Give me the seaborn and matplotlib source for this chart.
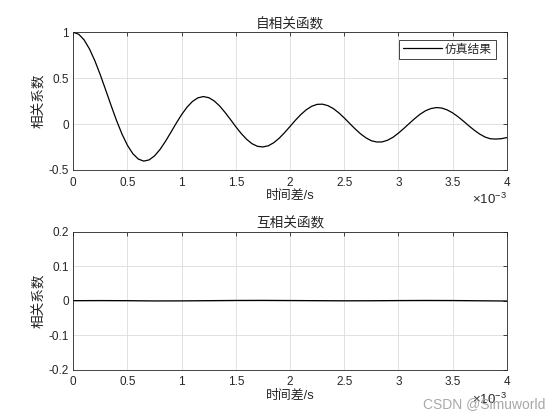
import numpy as np
import matplotlib
matplotlib.use("Agg")
import matplotlib.pyplot as plt
from matplotlib.ticker import FuncFormatter
import seaborn as sns

# time lag, in units of 1e-3 s
tau_ms = np.linspace(0, 4, 81)
auto_corr = [1.000, 0.979, 0.917, 0.817, 0.687, 0.534, 0.368, 0.199, 0.036, -0.110,
             -0.232, -0.323, -0.381, -0.403, -0.390, -0.346, -0.277, -0.189, -0.091, 0.010,
             0.104, 0.185, 0.247, 0.286, 0.300, 0.288, 0.253, 0.198, 0.128, 0.051,
             -0.029, -0.103, -0.166, -0.214, -0.242, -0.249, -0.236, -0.203, -0.154, -0.093,
             -0.026, 0.042, 0.104, 0.156, 0.194, 0.215, 0.217, 0.201, 0.169, 0.123,
             0.068, 0.008, -0.051, -0.105, -0.149, -0.181, -0.195, -0.194, -0.176, -0.144,
             -0.099, -0.048, 0.006, 0.059, 0.107, 0.145, 0.169, 0.180, 0.175, 0.155,
             0.123, 0.081, 0.033, -0.018, -0.066, -0.108, -0.141, -0.160, -0.163, -0.159, -0.147]

tau_cross_ms = np.linspace(0, 4, 17)
cross_corr = [0.0000, 0.0003, 0.0000, -0.0008, -0.0006, 0.0000, 0.0006, 0.0008, 0.0004,
              0.0000, -0.0004, -0.0002, 0.0003, 0.0006, 0.0004, -0.0003, -0.0010]

x_ticks = [0, 0.5, 1, 1.5, 2, 2.5, 3, 3.5, 4]
y_ticks_auto = [-0.5, 0, 0.5, 1]
y_ticks_cross = [-0.2, -0.1, 0, 0.1, 0.2]

sns.set_theme(style="whitegrid")
plt.rcParams['font.family'] = ['Liberation Sans', 'Noto Sans CJK SC']
plt.rcParams['mathtext.fontset'] = 'custom'
plt.rcParams['mathtext.rm'] = 'Liberation Sans'

W, H = 560, 420
fig = plt.figure(figsize=(5.6, 4.2), dpi=100, facecolor='white')
ax1 = fig.add_axes([73.3 / W, 1 - 170 / H, 433.4 / W, 137.7 / H])
ax2 = fig.add_axes([73.3 / W, 1 - 369.5 / H, 433.4 / W, 137.7 / H])

dark = '#262626'
fmt = FuncFormatter(lambda v, p: '%g' % v)

sns.lineplot(x=tau_ms, y=auto_corr, ax=ax1, color='black', lw=0.9, label='仿真结果')
sns.lineplot(x=tau_cross_ms, y=cross_corr, ax=ax2, color='black', lw=0.9, legend=False)

for ax, yt, title in [(ax1, y_ticks_auto, '自相关函数'), (ax2, y_ticks_cross, '互相关函数')]:
    ax.set_facecolor('white')
    ax.set_xlim(0, 4)
    ax.set_ylim(yt[0], yt[-1])
    ax.set_xticks(x_ticks)
    ax.set_yticks(yt)
    ax.xaxis.set_major_formatter(fmt)
    ax.yaxis.set_major_formatter(fmt)
    ax.grid(True, color='#dcdcdc', lw=0.6)
    for s in ax.spines.values():
        s.set_visible(True)
        s.set_color(dark)
        s.set_linewidth(0.6)
    ax.tick_params(direction='in', length=3, width=0.6, top=True, right=True,
                   colors=dark, labelsize=8.5)
    ax.tick_params(axis='x', pad=5)
    ax.tick_params(axis='y', pad=3)
    ax.set_title(title, fontsize=9.8, color=dark, pad=3)
    ax.set_xlabel('时间差/s', fontsize=9.3, color=dark, labelpad=1)
    ax.set_ylabel('相关系数', fontsize=9.8, color=dark, labelpad=2)

leg = ax1.legend(loc='upper right', bbox_to_anchor=(495.7 / W, 1 - 40 / H),
                 bbox_transform=fig.transFigure, borderaxespad=0, fontsize=8.5,
                 frameon=True, fancybox=False, edgecolor=dark, framealpha=1,
                 borderpad=0.3, handlelength=3.3, handletextpad=0.3)
leg.get_frame().set_linewidth(0.6)

fig.text(506.7 / W, 1 - 204 / H, r'$\times10^{-3}$', ha='right', va='baseline',
         fontsize=9.5, color=dark)
fig.text(506.7 / W, 1 - 403.7 / H, r'$\times10^{-3}$', ha='right', va='baseline',
         fontsize=9.5, color=dark)
fig.text(545 / W, 1 - 404 / H, 'CSDN @Simuworld', ha='right', va='center',
         fontsize=10, color='#a8a8a8')

fig.savefig('out.png', dpi=100, facecolor='white')
